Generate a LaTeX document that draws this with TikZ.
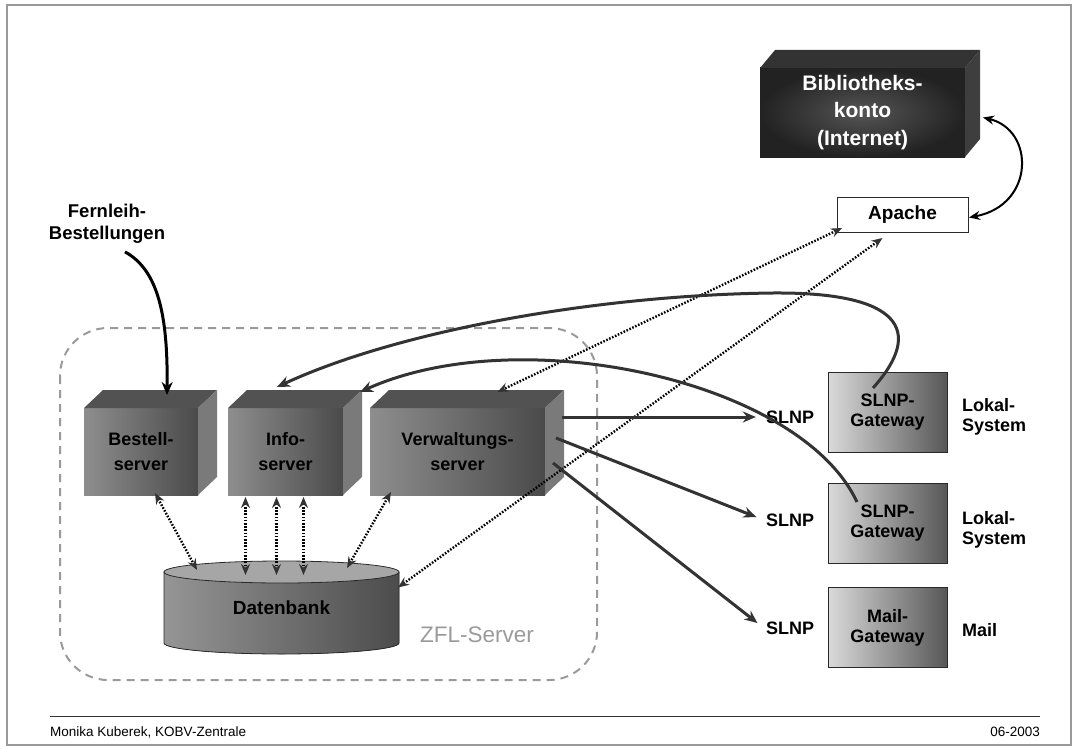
\documentclass[tikz,border=0pt]{standalone}
\usepackage{fontspec}
\setmainfont{Liberation Sans}
\usetikzlibrary{arrows.meta,calc}
\definecolor{zfdark}{HTML}{333333}
\definecolor{zfline}{HTML}{2A2A2A}
\definecolor{zfgrey}{HTML}{9A9A9A}
\definecolor{srvlight}{HTML}{8E8E8E}
\definecolor{srvdark}{HTML}{4A4A4A}
\definecolor{srvtop}{HTML}{525252}
\definecolor{srvside}{HTML}{7A7A7A}
\definecolor{gwlight}{HTML}{DADADA}
\definecolor{gwdark}{HTML}{575757}
\definecolor{bibmid}{HTML}{555555}
\definecolor{bibdark}{HTML}{222222}
\definecolor{bibtop}{HTML}{333333}
\definecolor{bibside}{HTML}{3E3E3E}
\definecolor{dblight}{HTML}{959595}
\definecolor{dbdark}{HTML}{4C4C4C}
\definecolor{dbtop}{HTML}{A6A6A6}
\tikzset{
  srv/.style={left color=srvlight,right color=srvdark,minimum height=87pt,inner sep=0pt,
              outer sep=0pt,align=center,font=\bfseries\fontsize{18}{25}\selectfont},
  gw/.style={draw=zfline,line width=1pt,left color=gwlight,right color=gwdark,minimum width=119pt,
             minimum height=80pt,inner sep=0pt,outer sep=0pt,align=center,
             font=\bfseries\fontsize{18}{20}\selectfont},
  web/.style={draw=zfline,fill=white,line width=1pt,minimum width=131pt,minimum height=35pt,
              inner sep=0pt,outer sep=0pt,font=\bfseries\fontsize{19}{22}\selectfont},
  bib/.style={inner color=bibmid,outer color=bibdark,minimum width=205pt,minimum height=89pt,
              inner sep=0pt,outer sep=0pt,align=center,text=white,
              font=\bfseries\fontsize{21}{27.5}\selectfont},
  lab/.style={font=\bfseries\fontsize{18}{20}\selectfont,inner sep=2pt,align=left},
  foot/.style={font=\fontsize{13.5}{16}\selectfont,inner sep=0pt},
  zfl/.style={draw=zfgrey,line width=2pt,dash pattern=on 8pt off 6pt,rounded corners=48pt},
  ar/.style={-{Stealth[length=13pt,width=11pt]},line width=3pt,zfdark},
  dar/.style={{Stealth[length=11pt,width=9pt,color=zfdark]}-{Stealth[length=11pt,width=9pt,color=zfdark]},
              line width=2.4pt,black,dash pattern=on 1.6pt off 1.6pt},
}

\begin{document}
\begin{tikzpicture}[x=1pt,y=-1pt]
    \useasboundingbox (0,0) rectangle (1076,749);
    \draw[gray!80,line width=1.2pt] (7,5) rectangle (1071,745);
    \draw[zfl] (60,328) rectangle (597,680);
    \node[bib] (bib) at (862.5,112.5) {Bibliotheks-\\konto\\(Internet)};
    \fill[bibtop] (bib.north west) -- ([shift={(15,-18)}]bib.north west) -- ([shift={(15,-18)}]bib.north east) -- (bib.north east) -- cycle;
    \fill[bibside] (bib.north east) -- ([shift={(15,-18)}]bib.north east) -- ([shift={(15,-18)}]bib.south east) -- (bib.south east) -- cycle;
    \node[web] (apache) at (902.5,214.5) {Apache};
    \node[font=\bfseries\fontsize{18.5}{22}\selectfont,align=center,inner sep=0pt] (fern) at (107,224) {Fernleih-\\Bestellungen};
    \node[srv,minimum width=114pt] (bestell) at (141,451.5) {Bestell-\\server};
    \node[srv,minimum width=115pt] (info) at (285.5,451.5) {Info-\\server};
    \node[srv,minimum width=175pt] (verw) at (457.5,451.5) {Verwaltungs-\\server};
    \foreach \n in {bestell,info,verw}{
      \fill[srvtop] (\n.north west) -- ([shift={(19,-18)}]\n.north west) -- ([shift={(19,-18)}]\n.north east) -- (\n.north east) -- cycle;
      \fill[srvside] (\n.north east) -- ([shift={(19,-18)}]\n.north east) -- ([shift={(19,-18)}]\n.south east) -- (\n.south east) -- cycle;
    }
    \coordinate (dbc) at (281.5,607.5);
    \filldraw[draw=zfline,line width=.8pt,left color=dblight,right color=dbdark] ([shift={(-117.5,-35.5)}]dbc) -- ([shift={(-117.5,35.5)}]dbc) arc[start angle=180,end angle=0,x radius=117.5,y radius=11] -- ([shift={(117.5,-35.5)}]dbc) -- cycle;
    \filldraw[draw=zfline,line width=.8pt,fill=dbtop] ([shift={(0,-35.5)}]dbc) ellipse[x radius=117.5,y radius=11];
    \node[minimum width=235pt,minimum height=71pt,inner sep=0pt,outer sep=0pt,
          font=\bfseries\fontsize{19}{22}\selectfont] (db) at (dbc) {Datenbank};
    \node[text=zfgrey,font=\fontsize{22.5}{26}\selectfont] (zfl) at (477,635) {ZFL-Server};
    \node[gw] (gw1) at (887.5,412) {SLNP-\\Gateway};
    \node[gw] (gw2) at (887.5,523) {SLNP-\\Gateway};
    \node[gw] (gw3) at (887.5,627.5) {Mail-\\Gateway};
    \node[lab] (slnp1) at (790,417) {SLNP};
    \node[lab] (slnp2) at (790,520) {SLNP};
    \node[lab] (slnp3) at (790,628) {SLNP};
    \node[lab,anchor=west] (lok1) at (960,417) {Lokal-\\System};
    \node[lab,anchor=west] (lok2) at (960,530) {Lokal-\\System};
    \node[lab,anchor=west] (mail) at (960,630) {Mail};
    \draw[line width=1pt,zfdark] (50,716) -- (1040,716);
    \node[foot,anchor=west] (autor) at (50,732) {Monika Kuberek, KOBV-Zentrale};
    \node[foot,anchor=east] (datum) at (1040,732) {06-2003};
    \draw[-{Stealth[length=13pt,width=11pt]},line width=3pt,black] ([shift={(18,8)}]fern.south) .. controls (158,270) and (168,315) .. ([shift={(26,-13)}]bestell.north);
    \draw[{Stealth[length=11pt,width=9pt]}-{Stealth[length=11pt,width=9pt]},line width=2pt,black] ([shift={(18,5)}]bib.east) .. controls (1035,130) and (1035,205) .. ([shift={(1,3)}]apache.east);
    \draw[dar] ([shift={(5,-4)}]apache.south west) -- ([shift={(40,-16)}]verw.north);
    \draw[dar] ([shift={(-20,6)}]apache.south) -- ([shift={(-1,-20)}]db.east);
    \draw[dar] ([shift={(14,-2)}]bestell.south) -- ([shift={(-84.5,-2)}]db.north);
    \foreach \dx in {-40,-9,18}
      {\draw[dar] ([shift={(\dx,2)}]info.south) -- ([shift={({\dx+4},3)}]db.north);}
    \draw[dar] ([shift={(-66.5,-3)}]verw.south) -- ([shift={(65.5,-4)}]db.north);
    \draw[ar,shorten >=8pt] ([shift={(17,-34.5)}]verw.east) -- (slnp1.west);
    \draw[ar,shorten >=8pt] ([shift={(11,-13.5)}]verw.east) -- (slnp2.west);
    \draw[ar,shorten >=8pt] ([shift={(8,11.5)}]verw.east) -- (slnp3.west);
    \draw[ar] ([shift={(-14.5,16)}]gw1.north) .. controls (925,330) and (900,292) .. (773,293) .. controls (600,295) and (400,330) .. ([shift={(-8.5,-21)}]info.north);
    \draw[ar] ([shift={(-30.5,19)}]gw2.north) .. controls (800,380) and (520,320) .. ([shift={(17,-16)}]info.north east);
  \end{tikzpicture}
\end{document}
